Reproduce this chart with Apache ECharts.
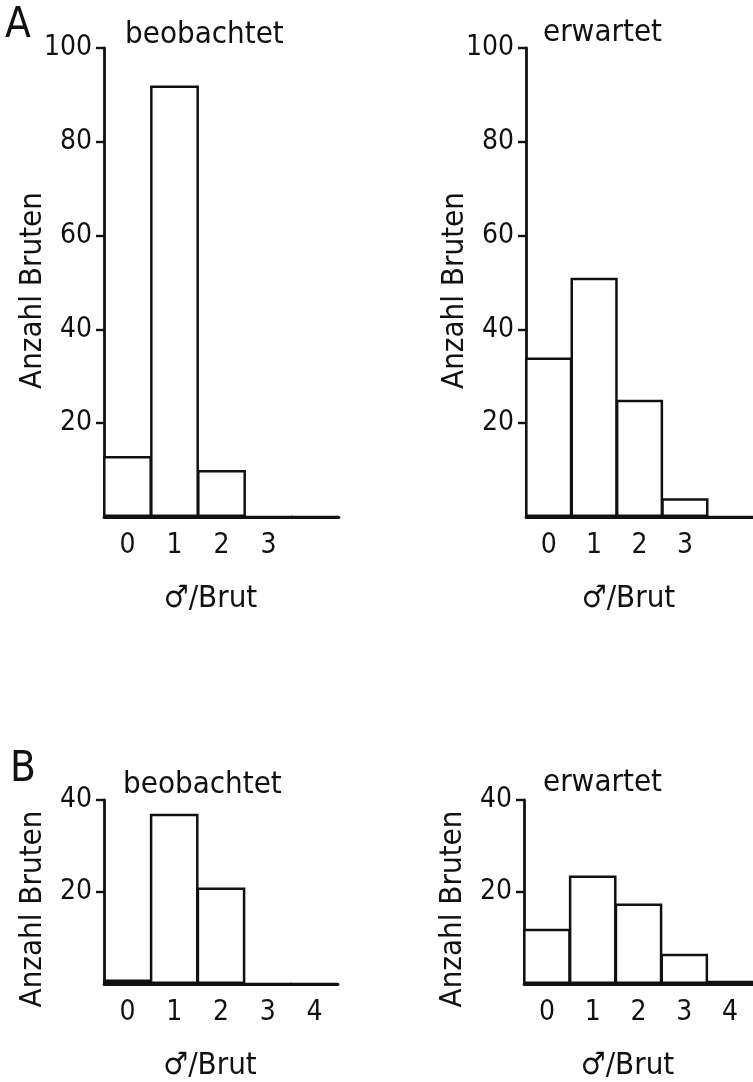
<!DOCTYPE html>
<html>
<head>
<meta charset="utf-8">
<script src="https://cdn.jsdelivr.net/npm/echarts@6/dist/echarts.min.js"></script>
<style>
html,body{margin:0;padding:0;background:#fff;}
#chart{width:753px;height:1082px;}
</style>
</head>
<body>
<div id="chart"></div>
<script>
// Data
const catA = ['0', '1', '2', '3', ''];
const catB = ['0', '1', '2', '3', '4'];
const aObserved = [13, 92, 10, 0, 0];
const aExpected = [34, 51, 25, 4, 0];
const bObserved = [1, 37, 21, 0, 0];
const bExpected = [12, 23.6, 17.5, 6.6, 0.7];
const aTicks = [20, 40, 60, 80, 100];
const bTicks = [20, 40];
const panelLetters = ['A', 'B'];
const titleObs = 'beobachtet';
const titleExp = 'erwartet';
const yName = 'Anzahl Bruten';
const xName = '\u2642/Brut';

const FONT = "'Liberation Sans Narrow', 'DejaVu Sans Condensed', 'DejaVu Sans', sans-serif";
const INK = '#111';

const chart = echarts.init(document.getElementById('chart'), null, {renderer: 'canvas'});

const grids = [
  {left: 104, top: 48, width: 235, height: 469},
  {left: 526, top: 48, width: 236, height: 469},
  {left: 104, top: 800, width: 234, height: 188},
  {left: 524, top: 800, width: 236, height: 188}
];
const cats = [catA, catA, catB, catB];
const datas = [aObserved, aExpected, bObserved, bExpected];
const maxes = [100, 100, 40, 40];
const ticks = [aTicks, aTicks, bTicks, bTicks];
const nameShift = [16, 16, 34, 34];

const xAxes = grids.map((g, i) => ({
  type: 'category', gridIndex: i, data: cats[i], boundaryGap: true,
  axisLine: {lineStyle: {color: INK, width: 2.8}},
  axisTick: {show: false},
  axisLabel: {color: INK, fontFamily: FONT, fontSize: 28, margin: 15},
  name: xName, nameLocation: 'middle', nameGap: 66, nameMoveOverlap: false,
  nameTextStyle: {color: INK, fontFamily: FONT, fontSize: 31, padding: [0, 22, 0, 0]}
}));
const yAxes = grids.map((g, i) => ({
  type: 'value', gridIndex: i, min: 0, max: maxes[i], interval: 20,
  splitLine: {show: false},
  axisLine: {show: true, lineStyle: {color: INK, width: 2.8}},
  axisTick: {show: true, length: 8, customValues: ticks[i], lineStyle: {color: INK, width: 2.4}},
  axisLabel: {color: INK, fontFamily: FONT, fontSize: 28, margin: 12, customValues: ticks[i]},
  name: yName, nameLocation: 'middle', nameGap: 56, nameMoveOverlap: false,
  nameTextStyle: {color: INK, fontFamily: FONT, fontSize: 31, padding: [0, nameShift[i], 0, 0]}
}));
const series = grids.map((g, i) => ({
  type: 'bar', xAxisIndex: i, yAxisIndex: i, data: datas[i],
  barWidth: '104%',
  itemStyle: {color: '#fff', borderColor: INK, borderWidth: 2.5},
  silent: true
}));

const titleStyle = {color: INK, fontFamily: FONT, fontSize: 31, fontWeight: 'normal'};
const letterStyle = {color: INK, fontFamily: FONT, fontSize: 42, fontWeight: 'normal'};
const titles = [
  {text: panelLetters[0], left: 5, top: 5, textStyle: letterStyle, padding: 0},
  {text: titleObs, left: 125, top: 19, textStyle: titleStyle, padding: 0},
  {text: titleExp, left: 543, top: 17, textStyle: titleStyle, padding: 0},
  {text: panelLetters[1], left: 10, top: 749, textStyle: letterStyle, padding: 0},
  {text: titleObs, left: 123, top: 769, textStyle: titleStyle, padding: 0},
  {text: titleExp, left: 543, top: 767, textStyle: titleStyle, padding: 0}
];

chart.setOption({
  backgroundColor: '#fff',
  animation: false,
  title: titles,
  grid: grids,
  xAxis: xAxes,
  yAxis: yAxes,
  series: series
});
</script>
</body>
</html>
